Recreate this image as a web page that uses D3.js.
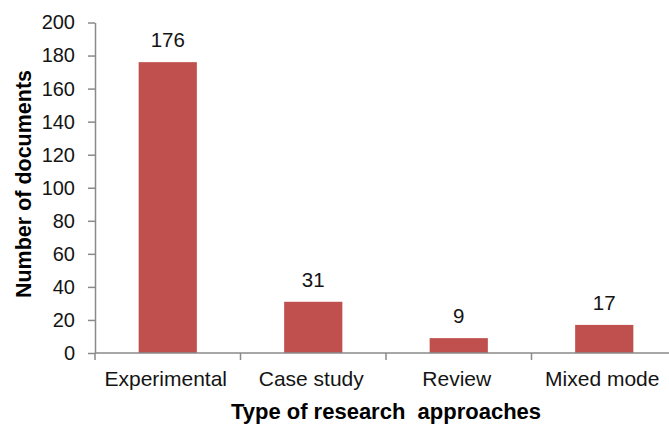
<!DOCTYPE html>
<html>
<head>
<meta charset="utf-8">
<script src="https://cdn.jsdelivr.net/npm/d3@7"></script>
<style>
  html, body { margin: 0; padding: 0; background: #fff; }
  svg { display: block; font-family: "Liberation Sans", Arial, sans-serif; }
</style>
</head>
<body>
<svg id="chart" width="669" height="427"></svg>
<script>
const categories = ["Experimental", "Case study", "Review", "Mixed mode"];
const documents = [176, 31, 9, 17];
const yTicks = [0, 20, 40, 60, 80, 100, 120, 140, 160, 180, 200];
const xTitle = "Type of research\u00a0 approaches";
const yTitle = "Number of documents";

(function () {
const svg = d3.select("#chart");
const plotLeft = 95, plotRight = 677, plotTop = 22.5, plotBottom = 353;
const axisColor = "#8a8a8a";
const textColor = "#141414";

const x = d3.scaleBand().domain(categories).range([plotLeft, plotRight]).paddingInner(0).paddingOuter(0);
const y = d3.scaleLinear().domain([0, 200]).range([plotBottom, plotTop]);

// Y axis
const yAxis = svg.append("g")
  .attr("transform", `translate(${plotLeft},0)`)
  .call(d3.axisLeft(y).tickValues(yTicks).tickSize(7).tickPadding(13).tickSizeOuter(0));
yAxis.select(".domain").attr("stroke", axisColor).attr("stroke-width", 1.5);
yAxis.selectAll(".tick line").attr("stroke", axisColor).attr("stroke-width", 1.5);
yAxis.selectAll(".tick text")
  .attr("fill", textColor)
  .style("font-size", "20px")
  .style("font-family", "Liberation Sans, Arial, sans-serif");

// Bars
const barW = x.bandwidth() * 0.4;
svg.append("g").selectAll("rect")
  .data(categories)
  .join("rect")
  .attr("x", (d) => x(d) + (x.bandwidth() - barW) / 2)
  .attr("width", barW)
  .attr("y", (d, i) => y(documents[i]))
  .attr("height", (d, i) => y(0) - y(documents[i]))
  .attr("fill", "#C0504D");

// X axis line and boundary ticks
const xg = svg.append("g");
xg.append("line")
  .attr("x1", plotLeft).attr("x2", plotRight)
  .attr("y1", y(0)).attr("y2", y(0))
  .attr("stroke", axisColor).attr("stroke-width", 1.5);
const bounds = categories.map((c) => x(c)).concat([x(categories[categories.length - 1]) + x.bandwidth()]);
xg.selectAll("line.bt")
  .data(bounds)
  .join("line")
  .attr("class", "bt")
  .attr("x1", (d) => d).attr("x2", (d) => d)
  .attr("y1", y(0)).attr("y2", y(0) + 7)
  .attr("stroke", axisColor).attr("stroke-width", 1.5);

// Category labels
xg.selectAll("text.cat")
  .data(categories)
  .join("text")
  .attr("class", "cat")
  .attr("x", (d) => x(d) + x.bandwidth() / 2 - 2)
  .attr("y", 386)
  .attr("text-anchor", "middle")
  .attr("fill", textColor)
  .style("font-size", "21px")
  .text((d) => d);

// Value labels
svg.append("g").selectAll("text")
  .data(categories)
  .join("text")
  .attr("x", (d) => x(d) + x.bandwidth() / 2)
  .attr("y", (d, i) => y(documents[i]) - 15)
  .attr("text-anchor", "middle")
  .attr("fill", textColor)
  .style("font-size", "20.5px")
  .text((d, i) => documents[i]);

// Axis titles
svg.append("text")
  .attr("x", (plotLeft + plotRight) / 2)
  .attr("y", 419)
  .attr("text-anchor", "middle")
  .attr("fill", "#000")
  .style("font-size", "22px")
  .style("font-weight", "bold")
  .text(xTitle);

svg.append("text")
  .attr("transform", "translate(31,184) rotate(-90)")
  .attr("text-anchor", "middle")
  .attr("fill", "#000")
  .style("font-size", "21.5px")
  .style("font-weight", "bold")
  .text(yTitle);
})();
</script>
</body>
</html>
